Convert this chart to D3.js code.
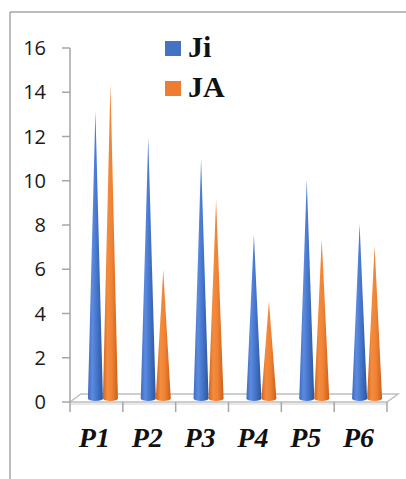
<!DOCTYPE html>
<html>
<head>
<meta charset="utf-8">
<script src="https://cdn.jsdelivr.net/npm/d3@7"></script>
<style>
  body { margin: 0; background: #fff; }
  svg { display: block; }
</style>
</head>
<body>
<div id="chart"></div>
<script>
// data
const categories = ["P1", "P2", "P3", "P4", "P5", "P6"];
const series = ["Ji", "JA"];
const jiValues = [13.0, 11.8, 10.8, 7.4, 9.9, 7.9];
const jaValues = [14.2, 5.8, 9.0, 4.4, 7.2, 6.9];
const yTicks = [0, 2, 4, 6, 8, 10, 12, 14, 16];
const colors = {Ji: "#4472c4", JA: "#ed7d31"};

const width = 406, height = 479;

const svg = d3.select("#chart").append("svg")
    .attr("width", width)
    .attr("height", height);

// outer frame (only top + left show)
svg.append("line").attr("x1", 10).attr("x2", width).attr("y1", 12).attr("y2", 12)
    .attr("stroke", "#a6a6a6").attr("stroke-width", 1.5);
svg.append("line").attr("x1", 10).attr("x2", 10).attr("y1", 12).attr("y2", height)
    .attr("stroke", "#a6a6a6").attr("stroke-width", 1.5);

// scales
let y = d3.scaleLinear().domain([0, 16]).range([402, 48]);
let x0 = d3.scaleBand().domain(categories).range([70, 387]);
let x1 = d3.scaleBand().domain(series).range([0, x0.bandwidth()]).paddingOuter(0.76);

// 3d depth of the floor
const depth = {dx: 11, dy: -8};
// cones sit about half way back
const coneOff = {dx: 6.5, dy: -3.5};

// gradients
let defs = svg.append("defs");
function grad(id, stops) {
    let g = defs.append("linearGradient").attr("id", id)
        .attr("x1", "0%").attr("x2", "100%").attr("y1", "0%").attr("y2", "0%");
    stops.forEach(s => g.append("stop").attr("offset", s[0]).attr("stop-color", s[1]));
}
grad("g-Ji", [["0%", "#3f6cc0"], ["30%", "#5b8be0"], ["60%", "#4575ca"], ["100%", "#2d5699"]]);
grad("g-JA", [["0%", "#d2631c"], ["30%", "#f38c3f"], ["60%", "#f08234"], ["100%", "#c95f1a"]]);

// floor
let y0 = y(0);
svg.append("polygon")
    .attr("points", [
        [x0.range()[0], y0],
        [x0.range()[1], y0],
        [x0.range()[1] + depth.dx, y0 + depth.dy],
        [x0.range()[0] + depth.dx, y0 + depth.dy]
    ].map(p => p.join(",")).join(" "))
    .attr("fill", "#fff")
    .attr("stroke", "#bfbfbf")
    .attr("stroke-width", 1.5);
svg.append("line")
    .attr("x1", x0.range()[0]).attr("x2", x0.range()[1])
    .attr("y1", y0 + 2).attr("y2", y0 + 2)
    .attr("stroke", "#d0d0d0").attr("stroke-width", 1);

// y axis
let yAxis = svg.append("g");
yAxis.append("line")
    .attr("x1", 70).attr("x2", 70).attr("y1", y(16)).attr("y2", y0)
    .attr("stroke", "#a6a6a6").attr("stroke-width", 1.5);
yAxis.selectAll(".tick").data(yTicks).enter().append("line")
    .attr("x1", 62).attr("x2", 70)
    .attr("y1", d => y(d)).attr("y2", d => y(d))
    .attr("stroke", "#a6a6a6").attr("stroke-width", 1.5);
yAxis.selectAll("text").data(yTicks).enter().append("text")
    .attr("x", 46)
    .attr("y", d => y(d))
    .attr("dy", "0.36em")
    .attr("text-anchor", "end")
    .style("font-family", "'Open Sans', sans-serif")
    .style("font-size", "20px")
    .attr("fill", "#1a1a1a")
    .text(d => d);

// x ticks at band edges
let xTickPos = categories.map(c => x0(c)).concat([x0.range()[1]]);
svg.selectAll(".xtick").data(xTickPos).enter().append("line")
    .attr("x1", d => d).attr("x2", d => d)
    .attr("y1", y0).attr("y2", y0 + 10)
    .attr("stroke", "#a6a6a6").attr("stroke-width", 1.5);

svg.selectAll(".xlabel").data(categories).enter().append("text")
    .attr("x", d => x0(d) + x0.bandwidth() / 2 - 2)
    .attr("y", 447)
    .attr("text-anchor", "middle")
    .style("font-family", "'Liberation Serif', 'Times New Roman', serif")
    .style("font-weight", "bold")
    .style("font-style", "italic")
    .style("font-size", "28px")
    .attr("fill", "#111")
    .text(d => d);

// cones
let rows = [];
categories.forEach((c, i) => {
    rows.push({cat: c, key: "Ji", value: jiValues[i]});
    rows.push({cat: c, key: "JA", value: jaValues[i]});
});

function conePath(d) {
    let cx = x0(d.cat) + x1(d.key) + x1.bandwidth() / 2 + coneOff.dx;
    let r = x1.bandwidth() / 2;
    let base = y(0) + coneOff.dy;
    let tip = y(d.value) + coneOff.dy;
    let ry = 2.5;
    return `M${cx - r},${base} L${cx},${tip} L${cx + r},${base} A${r},${ry} 0 0 1 ${cx - r},${base} Z`;
}

svg.selectAll(".cone").data(rows).enter().append("path")
    .attr("class", "cone")
    .attr("d", conePath)
    .attr("fill", d => `url(#g-${d.key})`);

// legend
let legend = svg.append("g").attr("transform", "translate(165, 41)");
series.forEach((s, i) => {
    let g = legend.append("g").attr("transform", `translate(0, ${i * 40})`);
    g.append("rect").attr("width", 16).attr("height", 15).attr("fill", colors[s]);
    g.append("text")
        .attr("x", 23)
        .attr("y", 16)
        .style("font-family", "'Liberation Serif', 'Times New Roman', serif")
        .style("font-weight", "bold")
        .style("font-size", "30px")
        .attr("fill", "#111")
        .text(s);
});
</script>
</body>
</html>
